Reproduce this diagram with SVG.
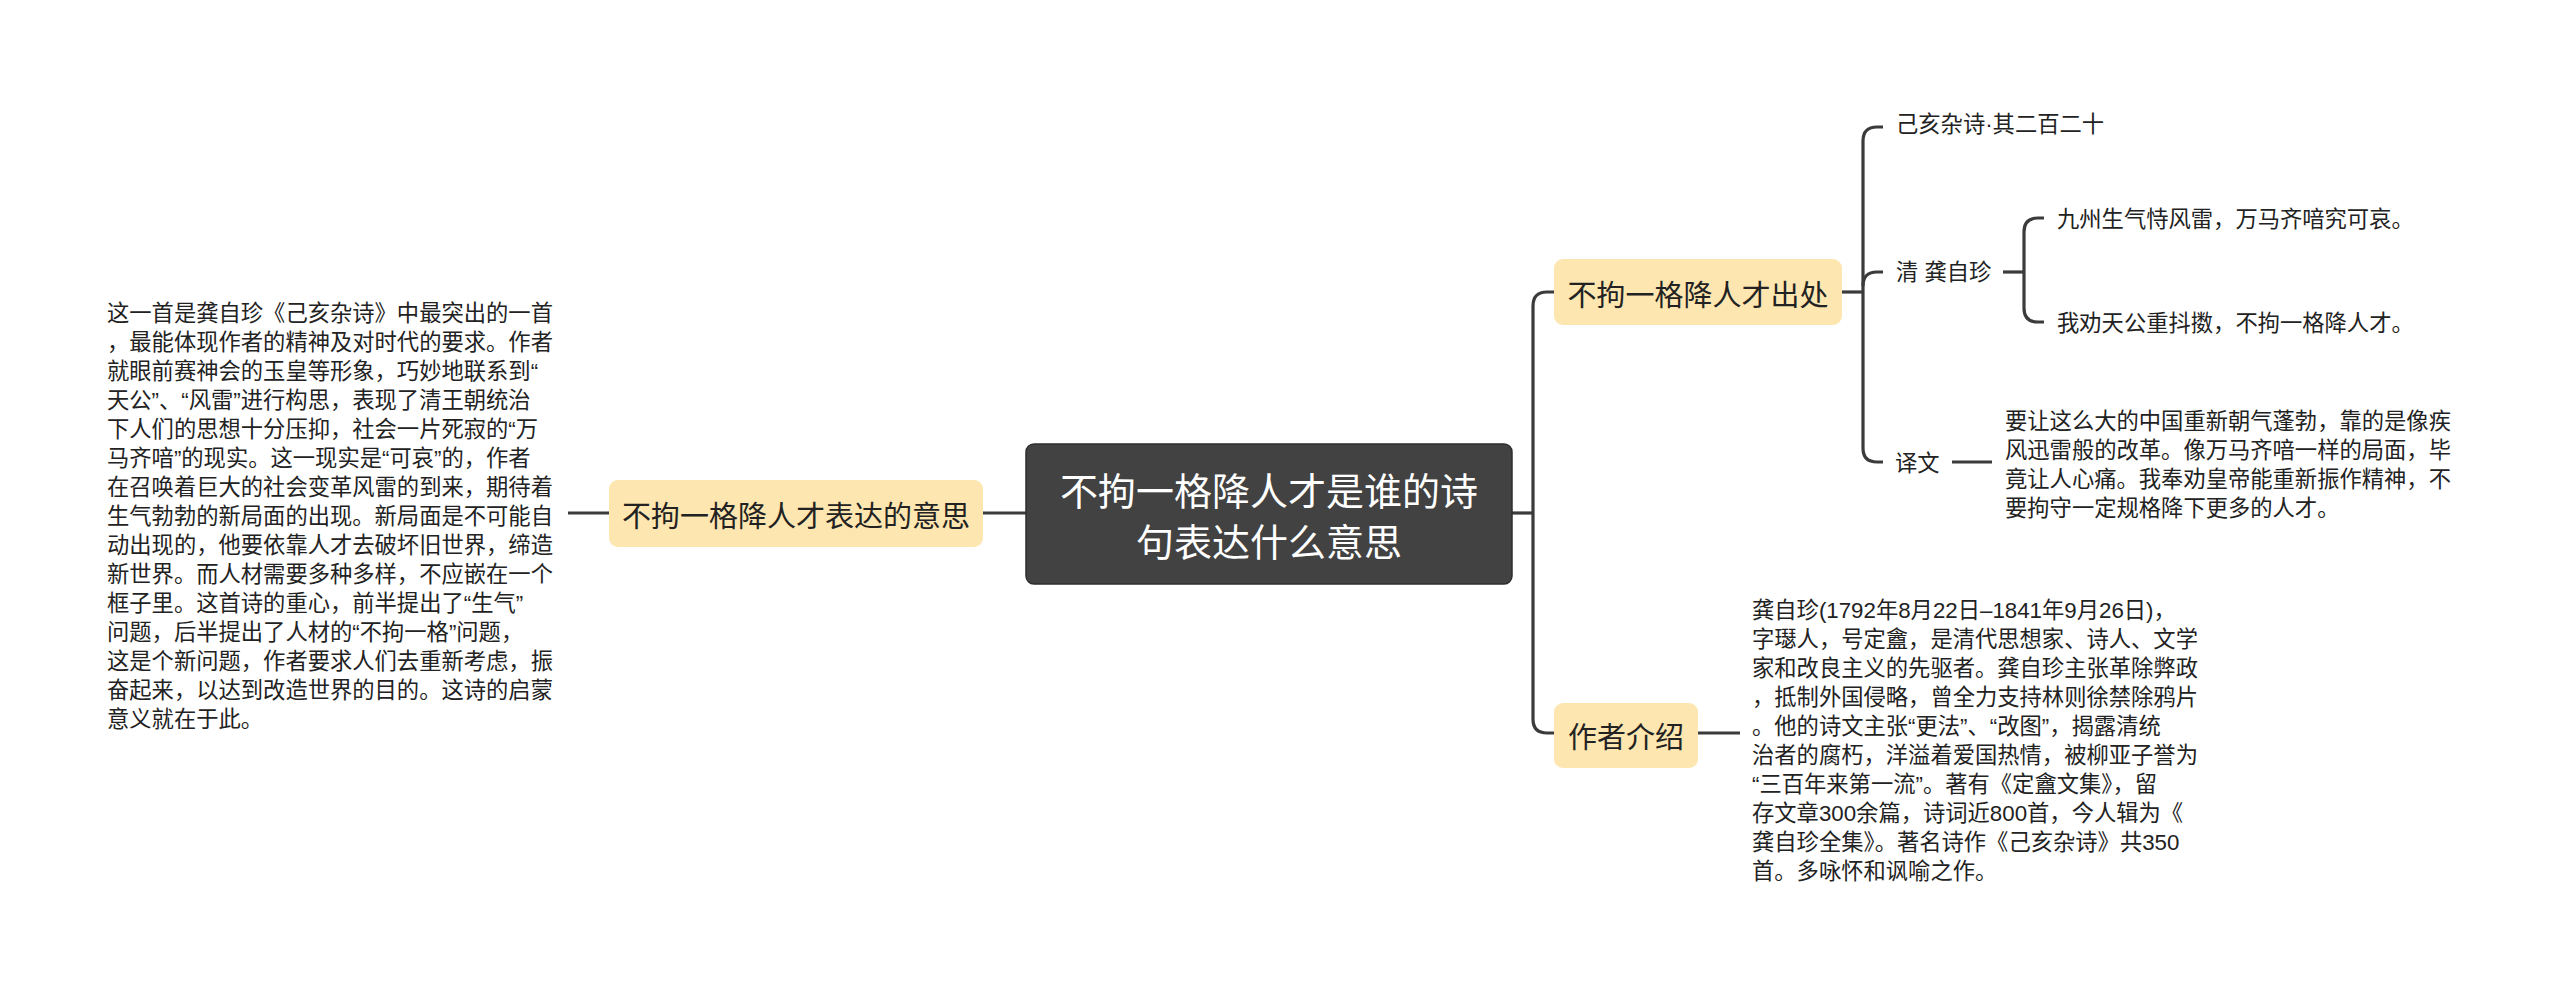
<svg xmlns="http://www.w3.org/2000/svg" width="2560" height="987" viewBox="0 0 2560 987">
<style>
text{font-family:"Noto Sans CJK SC","Noto Sans",sans-serif;dominant-baseline:central}
.root rect{fill:#424242;stroke:#2e2e2e;stroke-width:1.5}
.root text{fill:#ffffff;font-size:38px;text-anchor:middle}
.main rect{fill:#FDE6B0}
.main text{fill:#222;font-size:29px;text-anchor:middle}
.leaf text{fill:#222;font-size:22.3px;font-family:"Liberation Sans","Noto Sans CJK SC",sans-serif}
.conn path{fill:none;stroke:#3b3b3b;stroke-width:3.2;stroke-linecap:butt}
</style>
<rect width="2560" height="987" fill="#ffffff"/>
<g class="conn" id="connectors">
<path d="M983,513 H1026"/>
<path d="M568,513 H609"/>
<path d="M1512,513 H1533"/>
<path d="M1554,292 H1547 Q1533,292 1533,306 V719 Q1533,733 1547,733 H1554"/>
<path d="M1698,733 H1740"/>
<path d="M1842,292 H1863"/>
<path d="M1883,127 H1877 Q1863,127 1863,141 V448 Q1863,462 1877,462 H1883"/>
<path d="M1863,286 Q1863,272 1877,272 H1883"/>
<path d="M2003,272 H2024"/>
<path d="M2044,218 H2038 Q2024,218 2024,232 V308 Q2024,322 2038,322 H2044"/>
<path d="M1952,462 H1992"/>
</g>
<g class="root" id="root">
<rect x="1026" y="444" width="486" height="140" rx="8"/>
<text x="1269" y="488">不拘一格降人才是谁的诗</text>
<text x="1269" y="539">句表达什么意思</text>
</g>
<g class="main" id="n-meaning">
<rect x="609" y="480" width="374" height="67" rx="9"/>
<text x="796" y="514">不拘一格降人才表达的意思</text>
</g>
<g class="leaf" id="n-meaning-text">
<text x="107" y="313">这一首是龚自珍《己亥杂诗》中最突出的一首</text>
<text x="107" y="342">，最能体现作者的精神及对时代的要求。作者</text>
<text x="107" y="371">就眼前赛神会的玉皇等形象，巧妙地联系到“</text>
<text x="107" y="400">天公”、“风雷”进行构思，表现了清王朝统治</text>
<text x="107" y="429">下人们的思想十分压抑，社会一片死寂的“万</text>
<text x="107" y="458">马齐喑”的现实。这一现实是“可哀”的，作者</text>
<text x="107" y="487">在召唤着巨大的社会变革风雷的到来，期待着</text>
<text x="107" y="516">生气勃勃的新局面的出现。新局面是不可能自</text>
<text x="107" y="545">动出现的，他要依靠人才去破坏旧世界，缔造</text>
<text x="107" y="574">新世界。而人材需要多种多样，不应嵌在一个</text>
<text x="107" y="603">框子里。这首诗的重心，前半提出了“生气”</text>
<text x="107" y="632">问题，后半提出了人材的“不拘一格”问题，</text>
<text x="107" y="661">这是个新问题，作者要求人们去重新考虑，振</text>
<text x="107" y="690">奋起来，以达到改造世界的目的。这诗的启蒙</text>
<text x="107" y="719">意义就在于此。</text>
</g>
<g class="main" id="n-source">
<rect x="1554" y="259" width="288" height="66" rx="9"/>
<text x="1698" y="293">不拘一格降人才出处</text>
</g>
<g class="leaf" id="n-title">
<text x="1896" y="124">己亥杂诗·其二百二十</text>
</g>
<g class="leaf" id="n-poet">
<text x="1896" y="272">清 龚自珍</text>
</g>
<g class="leaf" id="n-line1">
<text x="2057" y="219">九州生气恃风雷，万马齐喑究可哀。</text>
</g>
<g class="leaf" id="n-line2">
<text x="2057" y="323">我劝天公重抖擞，不拘一格降人才。</text>
</g>
<g class="leaf" id="n-trans">
<text x="1895" y="463">译文</text>
</g>
<g class="leaf" id="n-trans-text">
<text x="2005" y="421">要让这么大的中国重新朝气蓬勃，靠的是像疾</text>
<text x="2005" y="450">风迅雷般的改革。像万马齐喑一样的局面，毕</text>
<text x="2005" y="479">竟让人心痛。我奉劝皇帝能重新振作精神，不</text>
<text x="2005" y="508">要拘守一定规格降下更多的人才。</text>
</g>
<g class="main" id="n-author">
<rect x="1554" y="703" width="144" height="65" rx="9"/>
<text x="1626" y="735">作者介绍</text>
</g>
<g class="leaf" id="n-author-text">
<text x="1752" y="610">龚自珍(1792年8月22日–1841年9月26日)，</text>
<text x="1752" y="639">字璱人，号定盦，是清代思想家、诗人、文学</text>
<text x="1752" y="668">家和改良主义的先驱者。龚自珍主张革除弊政</text>
<text x="1752" y="697">，抵制外国侵略，曾全力支持林则徐禁除鸦片</text>
<text x="1752" y="726">。他的诗文主张“更法”、“改图”，揭露清统</text>
<text x="1752" y="755">治者的腐朽，洋溢着爱国热情，被柳亚子誉为</text>
<text x="1752" y="784">“三百年来第一流”。著有《定盦文集》，留</text>
<text x="1752" y="813">存文章300余篇，诗词近800首，今人辑为《</text>
<text x="1752" y="842">龚自珍全集》。著名诗作《己亥杂诗》共350</text>
<text x="1752" y="871">首。多咏怀和讽喻之作。</text>
</g>
</svg>
